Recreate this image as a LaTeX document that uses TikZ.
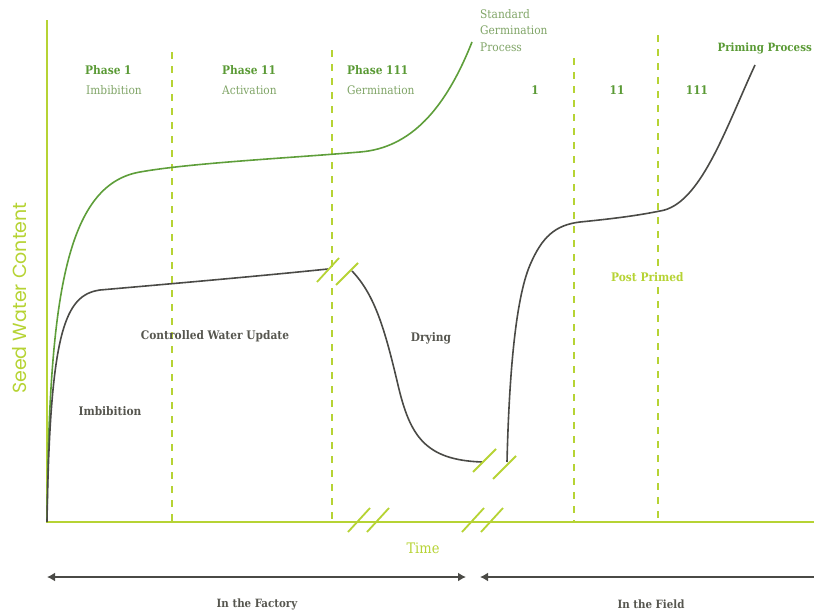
\documentclass[tikz,border=0pt]{standalone}
\usepackage{fontspec}
\setmainfont{DejaVu Serif Condensed}
\newfontfamily\slabb{DejaVu Serif Condensed}[BoldFont={* Bold}]
\newfontfamily\geo{Poppins}
\usetikzlibrary{arrows.meta}
\definecolor{axisgreen}{HTML}{B6D334}
\definecolor{curvegreen}{HTML}{5E9E3A}
\definecolor{phasegreen}{HTML}{5A9A35}
\definecolor{subgreen}{HTML}{7FA466}
\definecolor{darkcurve}{HTML}{4A4A46}
\definecolor{graytext}{HTML}{56564F}
\begin{document}
\begin{tikzpicture}[x=1pt,y=-1pt,
  axisline/.style={axisgreen,line width=1.8pt},
  vdash/.style={axisgreen,line width=1.2pt,dash pattern=on 7pt off 7pt},
  breakmark/.style={axisgreen,line width=1.8pt},
  greencurve/.style={curvegreen,line width=1.6pt},
  graycurve/.style={darkcurve,line width=1.6pt},
  phase/.style={font=\slabb\bfseries\fontsize{11.8}{13}\selectfont,text=phasegreen,inner sep=0pt,anchor=west},
  sub/.style={font=\slabb\fontsize{11.8}{13}\selectfont,text=subgreen,inner sep=0pt,anchor=west},
  graylbl/.style={font=\slabb\bfseries\fontsize{11.8}{13}\selectfont,text=graytext,inner sep=0pt},
  span/.style={darkcurve,line width=2.6pt},
  bottomlbl/.style={font=\slabb\bfseries\fontsize{11.4}{13}\selectfont,text=graytext,inner sep=0pt}]
\useasboundingbox (0,0) rectangle (814,613);
% axes
\coordinate (o) at (47,522);
\coordinate (ytop) at (47,20);
\coordinate (xend) at (814,522);
\draw[axisline] (ytop) -- (o) -- (xend);
% dashed phase lines
\foreach \n/\x/\t in {a/172/52,b/332/50,c/574/58,d/658/35}{
  \coordinate (\n top) at (\x,\t);
  \coordinate (\n bot) at (\x,522);
  \draw[vdash] (\n top) -- (\n bot);
}
% axis breaks
\foreach \x in {348,367,462,481}{
  \draw[breakmark] (\x,532) -- (\x+22,508);
}
% standard germination curve
\draw[greencurve] (o) .. controls (49,300) and (65,185) .. (140,172)
  .. controls (190,163) and (290,158) .. (360,152)
  .. controls (410,148) and (445,110) .. (472,42);
% primed curve, factory part
\draw[graycurve] (o) .. controls (50,330) and (65,295) .. (100,290)
  .. controls (180,283) and (260,276) .. (328,269);
% curve breaks top
\draw[breakmark] (317,282) -- (339,258);
\draw[breakmark] (336,285) -- (358,263);
% drying
\draw[graycurve] (352,271) .. controls (375,295) and (385,330) .. (398,385)
  .. controls (410,436) and (425,460) .. (482,462);
% curve breaks bottom
\draw[breakmark] (473,472) -- (496,449);
\draw[breakmark] (493,479) -- (516,456);
% field part
\draw[graycurve] (507,462) .. controls (509,380) and (515,300) .. (530,265)
  .. controls (542,237) and (555,225) .. (580,222)
  .. controls (620,218) and (640,215) .. (660,211)
  .. controls (700,205) and (725,130) .. (755,65);
% phase labels
\node[phase] (p1) at (85,70) {Phase 1};
\node[sub] (s1) at (86,90) {Imbibition};
\node[phase] (p2) at (222,70) {Phase 11};
\node[sub] (s2) at (222,90) {Activation};
\node[phase] (p3) at (347,70) {Phase 111};
\node[sub] (s3) at (347,90) {Germination};
\node[sub,anchor=north west,align=left,font=\slabb\fontsize{11.8}{16.5}\selectfont] (std) at (480,9) {Standard\\Germination\\Process};
\node[phase,anchor=center] (f1) at (535,90) {1};
\node[phase,anchor=center] (f2) at (617,90) {11};
\node[phase,anchor=center] (f3) at (697,90) {111};
\node[phase,anchor=east,font=\slabb\bfseries\fontsize{11.4}{13}\selectfont] (pp) at (812,48) {Priming Process};
\node[phase,text=axisgreen,fill=white,inner sep=2pt] (post) at (609,277) {Post Primed};
% gray labels
\node[graylbl] (cwu) at (215,336) {Controlled Water Update};
\node[graylbl] (dry) at (431,338) {Drying};
\node[graylbl] (imb) at (110,411) {Imbibition};
% axis titles
\node[font=\geo\fontsize{19}{20}\selectfont,text=axisgreen,rotate=90,inner sep=0pt] (ylab) at (20,298) {Seed Water Content};
\node[font=\slabb\fontsize{14.5}{16}\selectfont,text=axisgreen,inner sep=0pt] (tlab) at (423,548) {Time};
% spans
\coordinate (fa) at (47,577);
\coordinate (fb) at (466,577);
\coordinate (ga) at (480,577);
\coordinate (gb) at (814,577);
\draw[span,{Latex[length=8pt,width=9pt]}-{Latex[length=8pt,width=9pt]}] (fa) -- (fb);
\draw[span,{Latex[length=8pt,width=9pt]}-] (ga) -- (gb);
\node[bottomlbl] (fac) at (257,604) {In the Factory};
\node[bottomlbl] (fld) at (651,604) {In the Field};
\end{tikzpicture}
\end{document}
